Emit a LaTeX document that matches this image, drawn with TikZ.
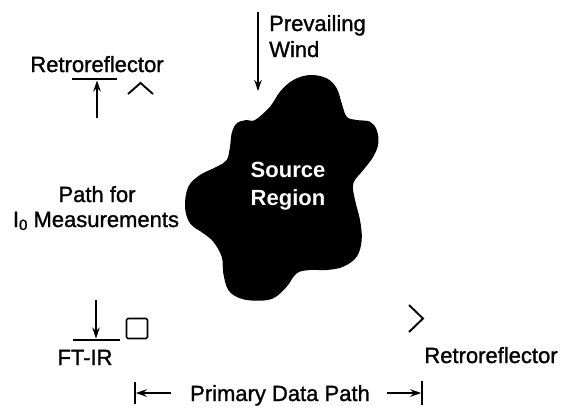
\documentclass[tikz,border=0pt]{standalone}
\usepackage{fontspec}
\setmainfont{Liberation Sans}
\newfontfamily\scanfont{Liberation Sans}[FakeBold=1.2]
\usetikzlibrary{arrows.meta}
\begin{document}
\begin{tikzpicture}[x=1pt,y=-1pt,
  lbl/.style={font=\scanfont\fontsize{22}{26}\selectfont, inner sep=0pt, anchor=base},
  wht/.style={font=\fontsize{22}{26}\selectfont\bfseries, text=white, inner sep=0pt, anchor=base},
  ln/.style={line width=1.6pt},
  arr/.style={line width=1.6pt, -{Stealth[length=11pt,width=7.5pt]}},
  reflmark/.style={line width=1.9pt, line join=miter}]
\useasboundingbox (0,0) rectangle (567,408);

% source region blob
\fill[black] plot[smooth cycle, tension=0.6] coordinates {
(255,120) (270,106.7) (280,91.7) (293.3,80) (310,75) (326.7,78.3) (336.7,88.3)
(341.7,103.3) (346.7,116.7) (356.7,120) (370,121.7) (376.7,130) (378.3,143.3)
(373.3,156.7) (363.3,170) (353.3,183.3) (355,200) (360,220) (361.7,240)
(356.7,256.7) (343.3,266.7) (326.7,270) (310,270) (296.7,273.3) (286.7,286.7)
(273.3,298.3) (256.7,300.7) (240,298.3) (228.3,290) (223.3,273.3) (221.7,256.7)
(213.3,241.7) (203.3,233.3) (190,223.3) (185,206.7) (188.3,186.7) (200,175)
(216.7,166.7) (226.7,160) (230,146.7) (231.7,133.3) (236.7,123.3) (246.7,120)};
\node[wht] (src1) at (288,177) {Source};
\node[wht] (src2) at (288,205) {Region};

% prevailing wind
\coordinate (w1) at (258,12);
\coordinate (w2) at (258,91);
\draw[arr] (w1) -- (w2);
\node[lbl, anchor=base west] (pw1) at (269,31) {Prevailing};
\node[lbl, anchor=base west] (pw2) at (269,57) {Wind};

% top-left retroreflector
\node[lbl] (ret1) at (97,72) {Retroreflector};
\coordinate (m1a) at (72,79);
\coordinate (m1b) at (117,79);
\draw[ln] (m1a) -- (m1b);
\coordinate (a1s) at (97,118);
\coordinate (a1e) at (97,80.5);
\draw[arr] (a1s) -- (a1e);
\coordinate (c1a) at (128,94);
\coordinate (c1b) at (140.5,83);
\coordinate (c1c) at (153,94);
\draw[reflmark] (c1a) -- (c1b) -- (c1c);

% path for I0
\node[lbl] (pf1) at (97,202) {Path for};
\node[lbl] (pf2) at (96,227) {I\raisebox{-3pt}{\fontsize{15}{15}\selectfont 0} Measurements};

% FT-IR
\coordinate (a2s) at (96,300);
\coordinate (a2e) at (96,338.5);
\draw[arr] (a2s) -- (a2e);
\coordinate (m2a) at (73,340);
\coordinate (m2b) at (120,340);
\draw[ln] (m2a) -- (m2b);
\node[draw, line width=1.6pt, minimum width=21pt, minimum height=20pt, rounded corners=1.5pt, inner sep=0pt] (sq) at (137,328.5) {};
\node[lbl] (ftir) at (85,365) {FT-IR};

% right retroreflector
\coordinate (c2a) at (409,305);
\coordinate (c2b) at (423,318.5);
\coordinate (c2c) at (409,332);
\draw[reflmark] (c2a) -- (c2b) -- (c2c);
\node[lbl] (ret2) at (491,363) {Retroreflector};

% primary data path
\coordinate (b1t) at (135,382);
\coordinate (b1b) at (135,404);
\coordinate (b2t) at (422,381);
\coordinate (b2b) at (422,405);
\draw[ln] (b1t) -- (b1b);
\draw[ln] (b2t) -- (b2b);
\node[lbl] (pdp) at (280,401) {Primary Data Path};
\coordinate (d1s) at (171,393);
\coordinate (d1e) at (135.8,393);
\coordinate (d2s) at (387,393);
\coordinate (d2e) at (421.2,393);
\draw[arr] (d1s) -- (d1e);
\draw[arr] (d2s) -- (d2e);
\end{tikzpicture}
\end{document}
